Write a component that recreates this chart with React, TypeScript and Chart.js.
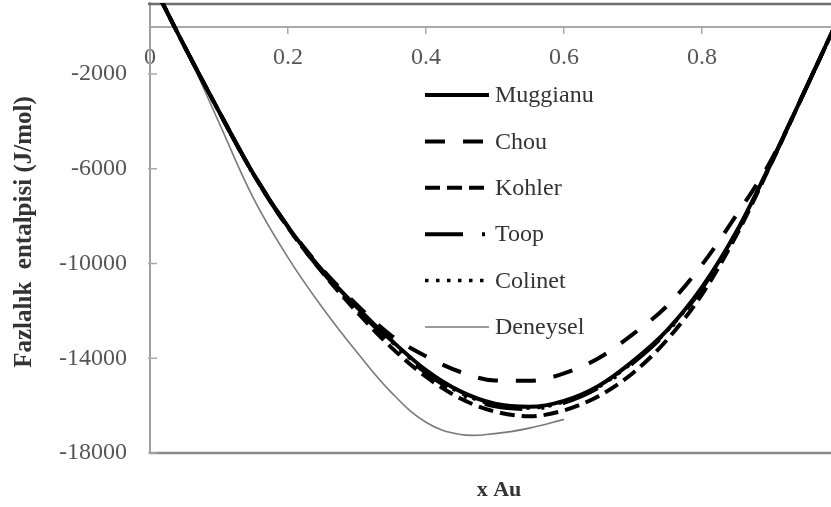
import React, { useEffect, useRef } from "react";
import { Chart, registerables } from "chart.js";
Chart.register(...registerables);

// ---- data ----
const xModel = [0, 0.05, 0.1, 0.15, 0.2, 0.25, 0.3, 0.35, 0.4, 0.45, 0.5, 0.55, 0.6, 0.65, 0.7, 0.75, 0.8, 0.85, 0.9, 0.95, 1.0];
const muggianu = [2050, -830, -3580, -6220, -8450, -10300, -11850, -13250, -14500, -15400, -15920, -16050, -15800, -15170, -14120, -12800, -11000, -8650, -5750, -2650, 500];
const chou = [2050, -830, -3580, -6220, -8440, -10250, -11750, -13050, -13920, -14580, -14940, -14950, -14640, -14000, -12980, -11770, -10050, -7950, -5650, -2650, 500];
const kohler = [2050, -830, -3580, -6230, -8480, -10380, -12050, -13550, -14780, -15700, -16250, -16450, -16200, -15600, -14620, -13200, -11300, -8800, -5800, -2650, 500];
const toop = [2050, -830, -3590, -6240, -8490, -10360, -11930, -13350, -14620, -15520, -16030, -16140, -15880, -15250, -14200, -12870, -11060, -8690, -5770, -2650, 500];
const colinet = [2050, -830, -3585, -6230, -8470, -10330, -11890, -13300, -14560, -15460, -15980, -16100, -15840, -15210, -14160, -12830, -11030, -8670, -5760, -2650, 500];
const xExp = [0, 0.05, 0.1, 0.15, 0.2, 0.25, 0.3, 0.35, 0.4, 0.45, 0.5, 0.55, 0.6];
const deneysel = [2050, -830, -4050, -7250, -9750, -11870, -13750, -15450, -16700, -17220, -17180, -16950, -16580];

const seriesNames = ["Muggianu", "Chou", "Kohler", "Toop", "Colinet", "Deneysel"];
const xTicks = [0, 0.2, 0.4, 0.6, 0.8];
const yTicks = [-18000, -14000, -10000, -6000, -2000];
const xTitle = "x Au";
const yTitle = "Fazlalık  entalpisi (J/mol)";

// ---- layout / style ----
const W = 831;
const H = 507;
const SERIF = "'Liberation Serif', 'Times New Roman', serif";

const styles = [
  { color: "#000", width: 4, dash: [] as number[] },
  { color: "#000", width: 4, dash: [20, 18] },
  { color: "#000", width: 4, dash: [15, 7] },
  { color: "#000", width: 4, dash: [38, 19, 3, 19] },
  { color: "#000", width: 3.5, dash: [3.5, 7.5] },
  { color: "#7a7a7a", width: 1.6, dash: [] as number[] },
];

const decor = {
  id: "decor",
  beforeDatasetsDraw(chart: any) {
    const { ctx, chartArea: ca, scales } = chart;
    ctx.save();
    // top border
    ctx.strokeStyle = "#6e6e6e";
    ctx.lineWidth = 2.5;
    ctx.beginPath();
    ctx.moveTo(ca.left - 2, ca.top + 1);
    ctx.lineTo(ca.right, ca.top + 1);
    ctx.stroke();
    // bottom border
    ctx.strokeStyle = "#8a8a8a";
    ctx.lineWidth = 2.5;
    ctx.beginPath();
    ctx.moveTo(ca.left, ca.bottom);
    ctx.lineTo(ca.right, ca.bottom);
    ctx.stroke();
    // inward y tick marks
    ctx.strokeStyle = "#aaaaaa";
    ctx.lineWidth = 1.5;
    yTicks.forEach((v) => {
      const py = scales.y.getPixelForValue(v);
      ctx.beginPath();
      ctx.moveTo(ca.left - 2, py);
      ctx.lineTo(ca.left + 7, py);
      ctx.stroke();
    });
    ctx.restore();
  },
  afterDraw(chart: any) {
    const { ctx } = chart;
    ctx.save();
    // axis titles
    ctx.fillStyle = "#333";
    ctx.font = `bold 25px ${SERIF}`;
    ctx.textAlign = "center";
    ctx.textBaseline = "middle";
    ctx.save();
    ctx.translate(25, 232);
    ctx.rotate(-Math.PI / 2);
    ctx.fillText(yTitle, 0, 0);
    ctx.restore();
    ctx.font = `bold 22px ${SERIF}`;
    ctx.fillText(xTitle, 499, 490);

    // legend
    const x0 = 425;
    const x1 = 489;
    const top = 95;
    const step = 46.4;
    chart.data.datasets.forEach((ds: any, i: number) => {
      const y = top + i * step;
      ctx.save();
      ctx.strokeStyle = ds.borderColor;
      ctx.lineWidth = ds.borderWidth;
      ctx.setLineDash(ds.borderDash || []);
      ctx.beginPath();
      ctx.moveTo(x0, y);
      ctx.lineTo(x1, y);
      ctx.stroke();
      ctx.restore();
      ctx.fillStyle = "#333";
      ctx.font = `24px ${SERIF}`;
      ctx.textAlign = "left";
      ctx.textBaseline = "middle";
      ctx.fillText(ds.label, 495, y + 1);
    });
    ctx.restore();
  },
};

export default function App() {
  const ref = useRef<HTMLCanvasElement>(null);
  useEffect(() => {
    const modelSeries = [muggianu, chou, kohler, toop, colinet];
    const datasets: any[] = modelSeries.map((vals, i) => ({
      label: seriesNames[i],
      data: xModel.map((x, j) => ({ x, y: vals[j] })),
      borderColor: styles[i].color,
      borderWidth: styles[i].width,
      borderDash: styles[i].dash,
      pointRadius: 0,
      fill: false,
      cubicInterpolationMode: "monotone",
      clip: 0,
    }));
    datasets.push({
      label: seriesNames[5],
      data: xExp.map((x, j) => ({ x, y: deneysel[j] })),
      borderColor: styles[5].color,
      borderWidth: styles[5].width,
      borderDash: styles[5].dash,
      pointRadius: 0,
      fill: false,
      tension: 0.4,
      clip: 0,
    });

    const chart = new Chart(ref.current!, {
      type: "line",
      data: { datasets },
      options: {
        animation: false,
        responsive: false,
        layout: { padding: { top: 3, bottom: 54, left: 0, right: 0 } },
        plugins: { legend: { display: false }, tooltip: { enabled: false } },
        scales: {
          x: {
            type: "linear",
            position: { y: 0 } as any,
            min: 0,
            max: 0.987,
            afterBuildTicks: (s: any) => {
              s.ticks = xTicks.map((v) => ({ value: v }));
            },
            afterFit: (s: any) => {
              s.height = 0;
              s.paddingLeft = 0;
              s.paddingRight = 0;
            },
            grid: {
              display: true,
              drawOnChartArea: false,
              drawTicks: true,
              tickLength: 6,
              color: "#aaaaaa",
              lineWidth: 1.5,
            },
            border: { display: true, color: "#a8a8a8", width: 2 },
            ticks: {
              padding: 11,
              color: "#555",
              font: { family: SERIF, size: 24 },
              maxRotation: 0,
              callback: (v: any) => String(v),
            },
          },
          y: {
            type: "linear",
            position: "left",
            min: -18000,
            max: 1000,
            afterBuildTicks: (s: any) => {
              s.ticks = yTicks.map((v) => ({ value: v }));
            },
            afterFit: (s: any) => {
              s.width = 150;
              s.paddingTop = 0;
              s.paddingBottom = 0;
            },
            grid: { display: true, drawOnChartArea: false, drawTicks: false },
            border: { display: true, color: "#a0a0a0", width: 2 },
            ticks: {
              padding: 23,
              color: "#555",
              font: { family: SERIF, size: 24 },
              callback: (v: any) => String(v),
            },
          },
        },
      },
      plugins: [decor],
    });
    return () => chart.destroy();
  }, []);

  return (
    <div style={{ position: "fixed", left: 0, top: 0, width: W, height: H, background: "#fff" }}>
      <canvas ref={ref} width={W} height={H} style={{ display: "block", width: W, height: H }} />
    </div>
  );
}
